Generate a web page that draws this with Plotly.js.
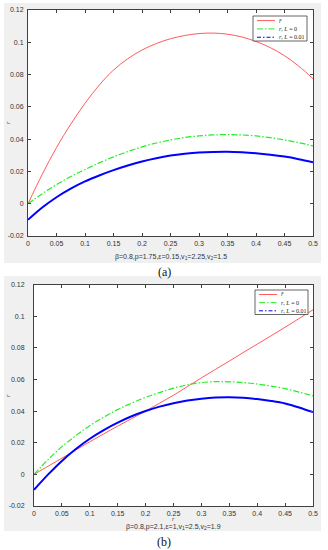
<!DOCTYPE html>
<html><head><meta charset="utf-8">
<script src="https://cdn.plot.ly/plotly-3.0.1.min.js"></script>
<style>html,body{margin:0;padding:0;background:#fff;}#chart{width:328px;height:550px;}</style>
</head><body><div id="chart"></div>
<script>
// ---- data ----
const rValues = [0,0.025,0.05,0.075,0.1,0.125,0.15,0.175,0.2,0.225,0.25,0.275,0.3,0.325,0.35,0.375,0.4,0.425,0.45,0.475,0.5];
const xTickVals = [0,0.05,0.1,0.15,0.2,0.25,0.3,0.35,0.4,0.45,0.5];
const xTickText = ["0","0.05","0.1","0.15","0.2","0.25","0.3","0.35","0.4","0.45","0.5"];
const yTickVals = [-0.02,0,0.02,0.04,0.06,0.08,0.1,0.12];
const yTickText = ["-0.02","0","0.02","0.04","0.06","0.08","0.1","0.12"];
const seriesNames = ["<i>r̄</i>", "<i>r</i>, <i>L</i> = 0", "<i>r</i>, <i>L</i> = 0.01"];
const panelLabels = ["(a)", "(b)"];
const captions = ["β=0.8,p=1.75,ε=0.15,v<sub>1</sub>=2.25,v<sub>2</sub>=1.5",
                  "β=0.8,p=2.1,ε=1,v<sub>1</sub>=2.5,v<sub>2</sub>=1.9"];
// panel (a)
const aRed   = [0,0.0182,0.0348,0.0493,0.0622,0.0735,0.0828,0.0898,0.0952,0.0992,0.1022,0.1042,0.1054,0.1057,0.1050,0.1033,0.1005,0.0967,0.0917,0.0852,0.0775];
const aGreen = [0,0.0062,0.0118,0.0168,0.0212,0.0253,0.029,0.0323,0.0352,0.0376,0.0395,0.041,0.042,0.0426,0.0428,0.0426,0.042,0.0409,0.0395,0.0378,0.0358];
const aBlue  = [-0.010,-0.0024,0.004,0.0093,0.0138,0.0175,0.0208,0.0237,0.0262,0.0282,0.0298,0.0309,0.0317,0.0321,0.0322,0.0319,0.0313,0.0304,0.0292,0.0276,0.0257];
// panel (b)
const bRed   = [0,0.0051,0.0102,0.0154,0.0206,0.0256,0.0305,0.0352,0.040,0.045,0.050,0.0555,0.061,0.0663,0.0716,0.077,0.0823,0.0876,0.093,0.0985,0.104];
const bGreen = [0,0.0092,0.0175,0.0245,0.0308,0.0362,0.041,0.045,0.0487,0.0517,0.0545,0.0566,0.058,0.0586,0.0585,0.058,0.0571,0.0558,0.0542,0.052,0.0496];
const bBlue  = [-0.0098,-0.0002,0.0085,0.016,0.0225,0.028,0.0327,0.0367,0.040,0.0428,0.045,0.0467,0.0478,0.0485,0.0487,0.0484,0.0476,0.0464,0.0448,0.0423,0.0393];

// ---- styling ----
const W = 328, H = 550;
const px = v => v / W, py = v => 1 - v / H;
const colors = ["#ff5a5a", "#22ee22", "#0000ff"];
const widths = [1, 1.2, 2];
const dashes = ["solid", "6px,2px,1.5px,2px", "solid"];
const legendDashes = ["solid", "6px,2px,1.5px,2px", "4px,2px,1.5px,2px"];

const panels = [
  {xa:"x", ya:"y", data:[aRed,aGreen,aBlue], gray:[4,3,321,263], plot:[28,10,313,236], legend:[253,16,307,41], ytitleY:123, cap:256.5, lab:272, xt:248.5, standoff:2},
  {xa:"x2", ya:"y2", data:[bRed,bGreen,bBlue], gray:[4,276,321,531], plot:[34,284.5,313,506], legend:[255,290,308,314.5], ytitleY:396, cap:526.5, lab:541.5, xt:519, standoff:7}
];

const traces = [];
const shapes = [];
const annotations = [];
const layout = {
  width: W, height: H,
  margin: {l:0, r:0, t:0, b:0},
  paper_bgcolor: "#ffffff",
  plot_bgcolor: "rgba(0,0,0,0)",
  showlegend: false,
  font: {family: "Liberation Sans, Arial, sans-serif", size: 7, color: "#333"}
};

panels.forEach((p, i) => {
  p.data.forEach((ys, k) => {
    traces.push({x: rValues, y: ys, type: "scatter", mode: "lines", xaxis: p.xa, yaxis: p.ya,
      line: {color: colors[k], width: widths[k], dash: dashes[k], shape: "spline", smoothing: 1},
      hoverinfo: "skip", showlegend: false});
  });
  const axCommon = {showline: true, linecolor: "#404040", linewidth: 1, mirror: "ticks",
    ticks: "inside", ticklen: 3, tickwidth: 1, tickcolor: "#404040", showgrid: false, zeroline: false,
    tickfont: {family: "Liberation Sans, Arial, sans-serif", size: 7, color: "#333"}, fixedrange: true};
  const xkey = i === 0 ? "xaxis" : "xaxis2";
  const ykey = i === 0 ? "yaxis" : "yaxis2";
  layout[xkey] = Object.assign({}, axCommon, {domain: [px(p.plot[0]), px(p.plot[2])], range: [0, 0.5],
    anchor: p.ya, tickmode: "array", tickvals: xTickVals, ticktext: xTickText, ticklabelstandoff: 1});
  layout[ykey] = Object.assign({}, axCommon, {domain: [py(p.plot[3]), py(p.plot[1])], range: [-0.02, 0.12],
    anchor: p.xa, tickmode: "array", tickvals: yTickVals, ticktext: yTickText, ticklabelstandoff: p.standoff});

  // gray figure background
  shapes.push({type: "rect", xref: "paper", yref: "paper", x0: px(p.gray[0]), x1: px(p.gray[2]),
    y0: py(p.gray[3]), y1: py(p.gray[1]), fillcolor: "#f0f0f0", line: {width: 0}, layer: "below"});
  // white axes area
  shapes.push({type: "rect", xref: p.xa + " domain", yref: p.ya + " domain", x0: 0, x1: 1, y0: 0, y1: 1,
    fillcolor: "#ffffff", line: {width: 0}, layer: "below"});
  // legend box
  const L = p.legend;
  shapes.push({type: "rect", xref: "paper", yref: "paper", x0: px(L[0]), x1: px(L[2]), y0: py(L[3]), y1: py(L[1]),
    fillcolor: "#ffffff", line: {color: "#404040", width: 0.8}, layer: "above"});
  const rowH = (L[3] - L[1]) / 3;
  seriesNames.forEach((name, k) => {
    const yy = L[1] + rowH * (k + 0.55);
    shapes.push({type: "line", xref: "paper", yref: "paper", x0: px(L[0] + 4), x1: px(L[0] + 22),
      y0: py(yy), y1: py(yy), line: {color: colors[k], width: 1, dash: legendDashes[k]}, layer: "above"});
    annotations.push({xref: "paper", yref: "paper", x: px(L[0] + 24), y: py(yy), xanchor: "left", yanchor: "middle",
      text: name, showarrow: false, font: {family: "Liberation Serif, DejaVu Serif, serif", size: 6, color: "#222"}});
  });
  // axis titles
  const cx = (p.plot[0] + p.plot[2]) / 2;
  annotations.push({xref: "paper", yref: "paper", x: px(cx), y: py(p.xt), xanchor: "center", yanchor: "middle",
    text: "<i>r</i>", showarrow: false, font: {family: "Liberation Serif, serif", size: 6, color: "#333"}});
  annotations.push({xref: "paper", yref: "paper", x: px(8), y: py(p.ytitleY), xanchor: "center", yanchor: "middle",
    text: "<i>r</i>", textangle: -90, showarrow: false, font: {family: "Liberation Serif, serif", size: 6, color: "#333"}});
  // caption
  annotations.push({xref: "paper", yref: "paper", x: px(cx), y: py(p.cap), xanchor: "center", yanchor: "middle",
    text: captions[i], showarrow: false, font: {family: "Liberation Sans, Arial, sans-serif", size: 7, color: "#333"}});
  // panel label
  annotations.push({xref: "paper", yref: "paper", x: 0.5, y: py(p.lab), xanchor: "center", yanchor: "middle",
    text: panelLabels[i], showarrow: false, font: {family: "Liberation Serif, Times New Roman, serif", size: 12, color: "#111"}});
});

layout.shapes = shapes;
layout.annotations = annotations;
Plotly.newPlot("chart", traces, layout, {staticPlot: true, displayModeBar: false});
</script>
</body></html>
